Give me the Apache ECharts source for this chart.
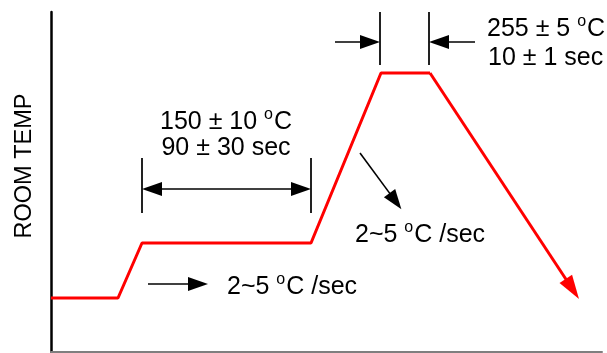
<!DOCTYPE html>
<html>
<head>
<meta charset="utf-8">
<script src="https://cdn.jsdelivr.net/npm/echarts@6/dist/echarts.min.js"></script>
<style>
  html, body { margin: 0; padding: 0; background: #fff; }
  #chart { width: 607px; height: 353px; }
</style>
</head>
<body>
<div id="chart"></div>
<script>
// reflow profile, schematic units (plot is 551 x 340 units)
const profileX = [0, 67, 91, 260, 330, 379, 528];
const profileY = [54, 54, 109, 109, 279, 279, 53];

// dimension lines / arrows: [x1, y1, x2(tip), y2(tip)]
const soakTicks = [91, 260];
const soakTickRange = [139, 194];
const soakArrowY = 163;
const peakTicks = [329, 378];
const peakTickRange = [287, 340];
const peakArrows = [[284, 310, 329, 310], [424, 310, 378, 310]];
const rampArrow = [309, 199, 351, 142];
const preheatArrow = [97, 68, 157, 68];

const labels = {
  soak: ["150 ± 10 ", "90 ± 30 sec"],
  peak: ["255 ± 5 ", "10 ± 1 sec"],
  rate: "2~5 "
};

const chart = echarts.init(document.getElementById("chart"));
const FONT = "'Liberation Sans', Arial, sans-serif";

// shorten an arrow so the centred triangle symbol ends on the tip
function arrowLine(a, head, color, width) {
  const dx = a[2] - a[0], dy = a[3] - a[1];
  const len = Math.sqrt(dx * dx + dy * dy);
  const k = (len - head / 2) / len;
  return [
    { coord: [a[0], a[1]], symbol: "none" },
    { coord: [a[0] + dx * k, a[1] + dy * k], symbol: "triangle",
      lineStyle: { color: color, width: width } }
  ];
}
function tick(x, r) {
  return [
    { coord: [x, r[0]], symbol: "none", lineStyle: { width: 2, color: "#222" } },
    { coord: [x, r[1]], symbol: "none" }
  ];
}

const data = profileX.slice(0, -1).map((x, i) => [x, profileY[i]]);
const n = profileX.length;
const lastSeg = [profileX[n - 2], profileY[n - 2], profileX[n - 1], profileY[n - 1]];

const supText = (main, rest) => ({
  text: "{n|" + main + "}{s|o}{n|" + rest + "}",
  rich: {
    n: { fontSize: 25, fontFamily: FONT, fill: "#000" },
    s: { fontSize: 16, fontFamily: FONT, fill: "#000", verticalAlign: "top", padding: [0, 1, 14, 0] }
  }
});

function richLabel(x, y, main, rest, align) {
  return {
    type: "text", x: x, y: y, z: 10,
    style: Object.assign({
      font: "25px " + FONT, fill: "#000", align: align, verticalAlign: "middle"
    }, supText(main, rest))
  };
}
function plainLabel(x, y, txt, align) {
  return {
    type: "text", x: x, y: y, z: 10,
    style: { text: txt, font: "25px " + FONT, fill: "#000", align: align, verticalAlign: "middle" }
  };
}

const option = {
  animation: false,
  grid: { left: 51, right: 5, top: 12, bottom: 1 },
  xAxis: {
    type: "value", min: 0, max: 551,
    axisLine: { show: true, lineStyle: { color: "#7f7f7f", width: 2 } },
    axisTick: { show: false }, axisLabel: { show: false }, splitLine: { show: false }
  },
  yAxis: {
    type: "value", min: 0, max: 340,
    axisLine: { show: true, lineStyle: { color: "#000", width: 2.5 } },
    axisTick: { show: false }, axisLabel: { show: false }, splitLine: { show: false }
  },
  series: [
    {
      type: "line", data: data, symbol: "none", silent: true,
      lineStyle: { color: "#ff0000", width: 3 },
      markLine: {
        silent: true, animation: false, label: { show: false },
        symbolSize: [15, 24],
        data: [arrowLine(lastSeg, 24, "#ff0000", 3)],
        lineStyle: { color: "#ff0000", width: 3, type: "solid" },
        itemStyle: { color: "#ff0000" }
      }
    },
    {
      type: "line", data: [], symbol: "none", silent: true,
      markLine: {
        silent: true, animation: false, label: { show: false },
        symbolSize: [14, 20],
        lineStyle: { color: "#000", width: 1.6, type: "solid" },
        itemStyle: { color: "#000" },
        data: [
          tick(soakTicks[0], soakTickRange),
          tick(soakTicks[1], soakTickRange),
          tick(peakTicks[0], peakTickRange),
          tick(peakTicks[1], peakTickRange),
          [
            { coord: [soakTicks[0] + 10, soakArrowY], symbol: "triangle" },
            { coord: [soakTicks[1] - 10, soakArrowY], symbol: "triangle" }
          ],
          arrowLine(peakArrows[0], 20, "#000", 1.6),
          arrowLine(peakArrows[1], 20, "#000", 1.6),
          arrowLine(rampArrow, 22, "#000", 1.6),
          arrowLine(preheatArrow, 20, "#000", 1.6)
        ]
      }
    }
  ],
  graphic: [
    {
      type: "text", x: 25, y: 166, rotation: Math.PI / 2,
      style: { text: "ROOM TEMP", font: "23.5px " + FONT, fill: "#000", align: "center", verticalAlign: "middle" }
    },
    richLabel(226, 122, labels.soak[0], "C", "center"),
    plainLabel(226, 148, labels.soak[1], "center"),
    richLabel(487, 29, labels.peak[0], "C", "left"),
    plainLabel(488, 58, labels.peak[1], "left"),
    richLabel(355, 235, labels.rate, "C /sec", "left"),
    richLabel(227, 287, labels.rate, "C /sec", "left")
  ]
};
chart.setOption(option);
</script>
</body>
</html>
